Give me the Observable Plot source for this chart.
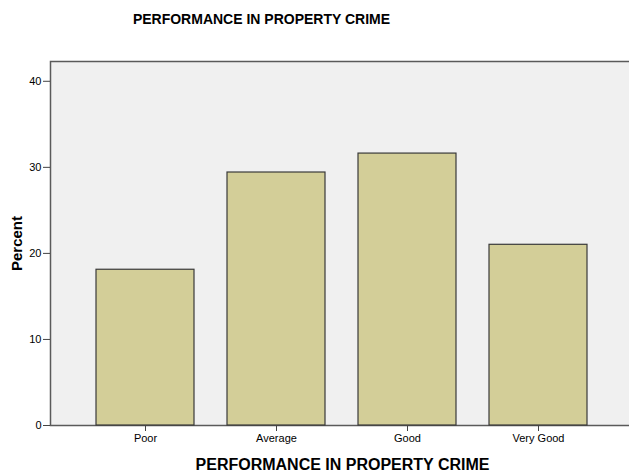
<!DOCTYPE html>
<html>
<head>
<meta charset="utf-8">
<script src="https://cdn.jsdelivr.net/npm/d3@7"></script>
<script src="https://cdn.jsdelivr.net/npm/@observablehq/plot@0.6"></script>
<style>
  html, body { margin: 0; padding: 0; background: #fff; }
  #wrap { position: relative; width: 629px; height: 474px; overflow: hidden; font-family: "Liberation Sans", Arial, sans-serif; }
  #title { width: 523px; height: 38px; line-height: 38px; text-align: center; font-size: 14px; font-weight: bold; color: #000; }
  #chart { width: 634px; }
  #chart svg { display: block; max-width: none !important; width: 634px; height: 436px; }
</style>
</head>
<body>
<div id="wrap">
  <div id="title"></div>
  <div id="chart"></div>
</div>
<script>
const categories = ["Poor", "Average", "Good", "Very Good"];
const percents = [18.1, 29.4, 31.6, 21.0];
const yTicks = [0, 10, 20, 30, 40];
const chartTitle = "PERFORMANCE IN PROPERTY CRIME";
const xTitle = "PERFORMANCE IN PROPERTY CRIME";
const yTitle = "Percent";

document.getElementById("title").textContent = chartTitle;

const data = categories.map((c, i) => ({category: c, percent: percents[i]}));

const chart = Plot.plot({
  width: 634,
  height: 436,
  marginTop: 23,
  marginBottom: 49,
  marginLeft: 50,
  marginRight: 0,
  style: {fontFamily: "Liberation Sans, Arial, sans-serif", fontSize: "11px", color: "#000", background: "transparent", maxWidth: "none"},
  x: {domain: categories, paddingInner: 0.25, paddingOuter: 0.35, label: null},
  y: {domain: [0, 42.3], label: null},
  marks: [
    Plot.frame({fill: "#f0f0f0", stroke: "#5a5a5a", strokeWidth: 1.5}),
    Plot.barY(data, {x: "category", y: "percent", fill: "#d3ce98", stroke: "#3a3a3a", strokeWidth: 1.2}),
    Plot.axisY({ticks: yTicks, tickSize: 7, tickPadding: 2, label: null, stroke: "#444", fill: "#000"}),
    Plot.axisX({tickSize: 6, tickPadding: 3, label: null, stroke: "#444", fill: "#000"}),
    Plot.ruleX([0], {frameAnchor: "left", stroke: "#444", strokeWidth: 1.5}),
    Plot.text([xTitle], {frameAnchor: "bottom", dy: 39, lineAnchor: "middle", text: d => d, fontSize: 16, fontWeight: "bold", fill: "#000"}),
    Plot.text([yTitle], {frameAnchor: "left", dx: -33, rotate: -90, lineAnchor: "middle", textAnchor: "middle", text: d => d, fontSize: 15, fontWeight: "bold", fill: "#000"})
  ]
});
document.getElementById("chart").appendChild(chart);
</script>
</body>
</html>
